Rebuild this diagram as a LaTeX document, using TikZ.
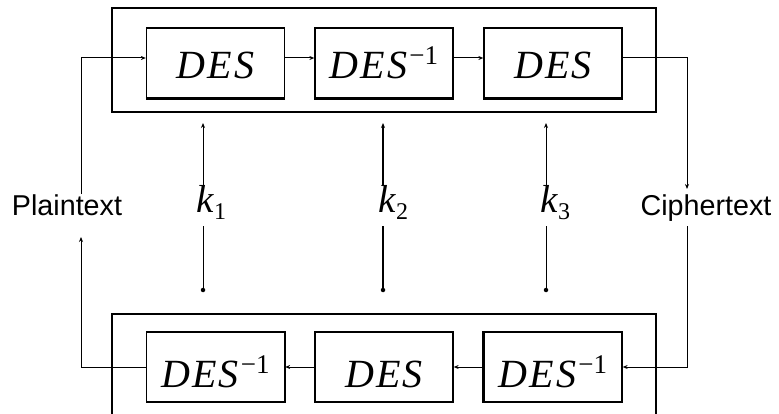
\documentclass[tikz,border=0pt]{standalone}
\usepackage{fontspec}
\setmainfont{Liberation Serif}
\newfontfamily\desfont[LetterSpace=5]{Liberation Serif}
\newfontfamily\labelfont{Liberation Sans}
\usetikzlibrary{arrows.meta}

\newcommand{\desinv}{DES\/\raisebox{14pt}{\rmfamily\fontsize{27}{27}\selectfont\upshape −1}}
\newcommand{\keyname}[1]{\itshape k\/\raisebox{-7pt}{\fontsize{24}{24}\selectfont\upshape #1}}

\begin{document}
\begin{tikzpicture}[x=1pt, y=-1pt,
    cipher/.style={draw, line width=1.3pt, minimum width=138pt, minimum height=70pt,
        inner sep=0pt, text height=32pt, text depth=0pt,
        font=\desfont\fontsize{40}{40}\selectfont\itshape},
    lowrow/.style={text height=40pt},
    stage/.style={line width=1.3pt},
    link/.style={line width=1pt, -{Stealth[length=5pt, width=4pt]}},
    keydot/.style={circle, fill, inner sep=0pt, minimum size=4.5pt},
    keylabel/.style={inner sep=0pt, anchor=base west, font=\fontsize{39}{39}\selectfont},
    sidelabel/.style={inner sep=0pt, anchor=base, font=\labelfont\fontsize{28.7}{28.7}\selectfont}]

    \useasboundingbox (0,0) rectangle (779,414);

    % Encryption stage (top) and decryption stage (bottom)
    \draw[stage] (112,8) rectangle (656,112);
    \draw[stage] (112,314) rectangle (656,440);

    % Top row: DES, DES^-1, DES
    \node[cipher] (encA) at (215.5,63) {DES};
    \node[cipher] (encB) at (384,63) {\desinv};
    \node[cipher] (encC) at (553,63) {DES};

    % Bottom row: DES^-1, DES, DES^-1
    \node[cipher, lowrow] (decA) at (215.5,367) {\desinv};
    \node[cipher, lowrow] (decB) at (384,367) {DES};
    \node[cipher, lowrow] (decC) at (553,367) {\desinv};

    % heavier edges of the boxes
    \foreach \b in {encA, encB, encC}
        \draw[line width=2.6pt] (\b.south west) -- (\b.south east);
    \draw[line width=2.4pt] (decA.south east) -- (decA.north east);
    \draw[line width=2.4pt] (decC.south west) -- (decC.north west);

    % Side labels
    \node[sidelabel] (plain) at (67,215) {Plaintext};
    \node[sidelabel] (cipher) at (706,215) {Ciphertext};
    \coordinate (ptin) at (81,237);
    \coordinate (ctout) at (687,189);

    % Chain through the top row
    \draw[link] (plain.north -| ptin) |- ([yshift=5pt]encA.west);
    \draw[link] ([yshift=5pt]encA.east) -- ([yshift=5pt]encB.west);
    \draw[link] ([yshift=5pt]encB.east) -- ([yshift=5pt]encC.west);
    \draw[link] ([yshift=5pt]encC.east) -| (ctout);

    % Chain back through the bottom row
    \draw[link] ([yshift=-5pt]cipher.south -| ctout) |- (decC.east);
    \draw[link] (decC.west) -- (decB.east);
    \draw[link] (decB.west) -- (decA.east);
    \draw[link] (decA.west) -| (ptin);

    % Keys
    \node[keylabel] (k1) at (196,213) {\keyname{1}};
    \node[keylabel] (k2) at (378,213) {\keyname{2}};
    \node[keylabel] (k3) at (540,213) {\keyname{3}};
    \node[keydot] (k1dot) at (203,290) {};
    \node[keydot] (k2dot) at (383,290) {};
    \node[keydot] (k3dot) at (546,290) {};
    \coordinate (k1in) at (203,123);
    \coordinate (k2in) at (383,123);
    \coordinate (k3in) at (546,123);

    \draw[line width=1pt] (k1dot) -- ([yshift=-6pt]k1dot |- k1.south);
    \draw[link] (k1dot |- k1.north) -- (k1in);
    \draw[line width=2pt] (k2dot) -- ([yshift=-6pt]k2dot |- k2.south);
    \draw[link, line width=2pt] (k2dot |- k2.north) -- (k2in);
    \draw[line width=1pt] (k3dot) -- ([yshift=-6pt]k3dot |- k3.south);
    \draw[link] (k3dot |- k3.north) -- (k3in);

\end{tikzpicture}
\end{document}
